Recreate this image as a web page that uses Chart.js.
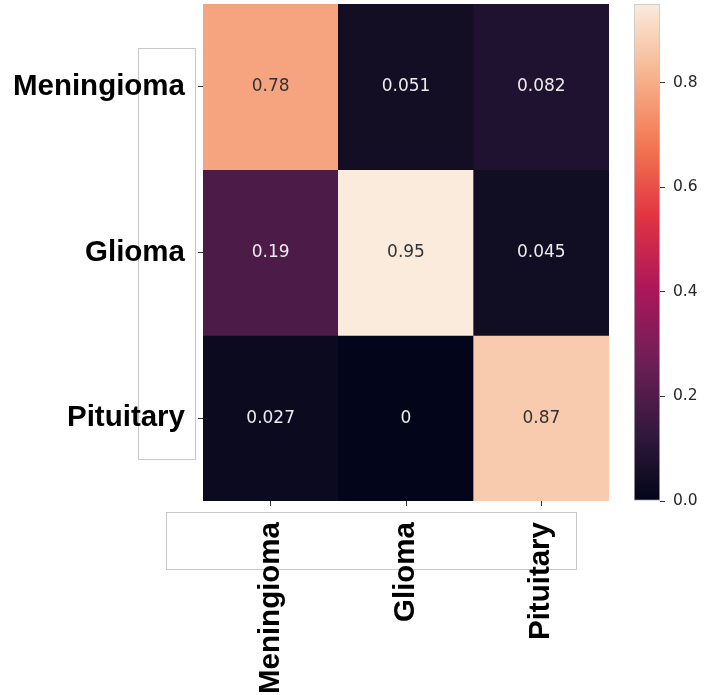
<!DOCTYPE html>
<html>
<head>
<meta charset="utf-8">
<script src="https://cdn.jsdelivr.net/npm/chart.js@4.4.1/dist/chart.umd.min.js"></script>
<style>
  html, body { margin: 0; padding: 0; background: #ffffff; }
  #wrap { position: relative; width: 704px; height: 695px; overflow: hidden; }
  .frame { position: absolute; border: 1px solid #c8c8c8; box-sizing: border-box; }
  canvas { position: absolute; }
</style>
</head>
<body>
<div id="wrap">
  <div class="frame" style="left:138px; top:48px; width:58px; height:412px;"></div>
  <div class="frame" style="left:166px; top:512px; width:411px; height:58px;"></div>
  <canvas id="heat" width="704" height="695" style="left:0; top:0;"></canvas>
  <canvas id="cbar" width="104" height="520" style="left:600px; top:0;"></canvas>
</div>
<script>
// Class names along both axes
const rowLabels = ['Meningioma', 'Glioma', 'Pituitary'];
const colLabels = ['Meningioma', 'Glioma', 'Pituitary'];

// Normalised confusion matrix, one array per true class
const meningiomaRow = [0.78, 0.051, 0.082];
const gliomaRow     = [0.19, 0.95, 0.045];
const pituitaryRow  = [0.027, 0, 0.87];
const matrix = [meningiomaRow, gliomaRow, pituitaryRow];

// Colour bar range and ticks
const colorMin = 0;
const colorMax = 0.95;
const colorTicks = [0.0, 0.2, 0.4, 0.6, 0.8];

// "rocket" colour map stops
const rocketStops = [
  [0.000, [3, 5, 26]],
  [0.047, [17, 13, 34]],
  [0.086, [31, 18, 48]],
  [0.143, [53, 25, 62]],
  [0.286, [112, 31, 87]],
  [0.429, [173, 23, 89]],
  [0.571, [225, 51, 66]],
  [0.714, [243, 118, 81]],
  [0.857, [246, 180, 143]],
  [1.000, [250, 235, 221]]
];

function rocket(t) {
  t = Math.max(0, Math.min(1, t));
  for (let i = 1; i < rocketStops.length; i++) {
    const [t1, c1] = rocketStops[i];
    const [t0, c0] = rocketStops[i - 1];
    if (t <= t1) {
      const f = (t - t0) / (t1 - t0);
      const c = c0.map((v, k) => Math.round(v + (c1[k] - v) * f));
      return `rgb(${c[0]},${c[1]},${c[2]})`;
    }
  }
  const c = rocketStops[rocketStops.length - 1][1];
  return `rgb(${c[0]},${c[1]},${c[2]})`;
}
const norm = v => (v - colorMin) / (colorMax - colorMin);

// Remove the extra room Chart.js reserves for half-labels at the scale ends
function noEndPadding(scale) {
  scale.paddingTop = 0;
  scale.paddingBottom = 0;
  scale.paddingLeft = 0;
  scale.paddingRight = 0;
}

// One floating-bar dataset per row: bar spans [row, row + 1] on the reversed y scale
const datasets = matrix.map((vals, r) => ({
  label: rowLabels[r],
  data: vals.map(() => [r, r + 1]),
  values: vals,
  backgroundColor: vals.map(v => rocket(norm(v))),
  borderWidth: 0,
  grouped: false,
  barPercentage: 1,
  categoryPercentage: 1
}));

// Writes each cell's value in its centre
const cellText = {
  id: 'cellText',
  afterDatasetsDraw(chart) {
    const ctx = chart.ctx;
    ctx.save();
    ctx.font = '17px "DejaVu Sans"';
    ctx.textAlign = 'center';
    ctx.textBaseline = 'middle';
    chart.data.datasets.forEach((ds, di) => {
      chart.getDatasetMeta(di).data.forEach((el, i) => {
        const v = ds.values[i];
        ctx.fillStyle = norm(v) > 0.5 ? '#333333' : '#ececec';
        ctx.fillText(String(v), el.x, (el.y + el.base) / 2);
      });
    });
    ctx.restore();
  }
};

const labelFont = { family: '"Liberation Sans", Arial, sans-serif', size: 29.5, weight: 'bold' };

new Chart(document.getElementById('heat'), {
  type: 'bar',
  data: { labels: colLabels, datasets },
  options: {
    responsive: false,
    devicePixelRatio: 1,
    animation: false,
    layout: { padding: { left: 0, top: 4, right: 95, bottom: 0 } },
    plugins: { legend: { display: false }, tooltip: { enabled: false } },
    scales: {
      x: {
        type: 'category',
        grid: { offset: false, drawOnChartArea: false, drawTicks: true, tickLength: 5, tickColor: '#333333' },
        border: { display: false },
        ticks: { color: '#000000', font: labelFont, minRotation: 90, maxRotation: 90, autoSkip: false, padding: 16 },
        afterFit(scale) { scale.height = 194; noEndPadding(scale); }
      },
      y: {
        type: 'linear',
        min: 0,
        max: 3,
        reverse: true,
        grid: { drawOnChartArea: false, drawTicks: true, tickLength: 5, tickColor: '#333333' },
        border: { display: false },
        afterBuildTicks(scale) { scale.ticks = rowLabels.map((_, i) => ({ value: i + 0.5 })); },
        ticks: {
          color: '#000000',
          font: labelFont,
          padding: 13,
          callback: v => rowLabels[Math.floor(v)]
        },
        afterFit(scale) { scale.width = 203; noEndPadding(scale); }
      }
    }
  },
  plugins: [cellText]
});

// Colour bar: a single floating bar filled with the colour map gradient
new Chart(document.getElementById('cbar'), {
  type: 'bar',
  data: {
    labels: [''],
    datasets: [{
      data: [[colorMin, colorMax]],
      backgroundColor(context) {
        const area = context.chart.chartArea;
        if (!area) return 'rgba(0,0,0,0)';
        const g = context.chart.ctx.createLinearGradient(0, area.bottom, 0, area.top);
        for (let i = 0; i <= 40; i++) g.addColorStop(i / 40, rocket(i / 40));
        return g;
      },
      borderColor: '#c4c4c4',
      borderWidth: 1,
      borderSkipped: false,
      barPercentage: 1,
      categoryPercentage: 1
    }]
  },
  options: {
    responsive: false,
    devicePixelRatio: 1,
    animation: false,
    layout: { padding: { left: 34, top: 4, right: 0, bottom: 19 } },
    plugins: { legend: { display: false }, tooltip: { enabled: false } },
    scales: {
      x: { display: false },
      y: {
        type: 'linear',
        position: 'right',
        min: colorMin,
        max: colorMax,
        grid: { drawOnChartArea: false, drawTicks: true, tickLength: 5, tickColor: '#333333' },
        border: { display: false },
        afterBuildTicks(scale) { scale.ticks = colorTicks.map(v => ({ value: v })); },
        ticks: {
          color: '#262626',
          font: { family: '"DejaVu Sans"', size: 15.5 },
          padding: 8,
          callback: v => Number(v).toFixed(1)
        },
        afterFit(scale) { scale.width = 44; noEndPadding(scale); }
      }
    }
  }
});
</script>
</body>
</html>
